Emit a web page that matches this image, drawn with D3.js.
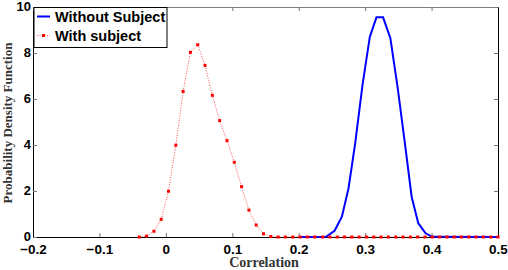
<!DOCTYPE html>
<html>
<head>
<meta charset="utf-8">
<script src="https://cdn.jsdelivr.net/npm/d3@7"></script>
<style>
  body { margin: 0; background: #fff; }
  .tick text { font-family: "Liberation Sans", Arial, sans-serif; font-weight: bold; fill: #000; }
  .axisText { font-family: "Liberation Serif", "Times New Roman", serif; font-weight: bold; fill: #333; }
  .legendText { font-family: "Liberation Sans", Arial, sans-serif; font-weight: bold; font-size: 14.5px; fill: #000; }
</style>
</head>
<body>
<div id="chart"></div>
<script>
//chart data
var xTicks = [-0.2, -0.1, 0, 0.1, 0.2, 0.3, 0.4, 0.5];
var xTickLabels = ["\u22120.2", "\u22120.1", "0", "0.1", "0.2", "0.3", "0.4", "0.5"];
var yTicks = [0, 2, 4, 6, 8, 10];
var seriesNames = ["Without Subject", "With subject"];

//blue curve (without subject)
var blueX = [0.200, 0.229, 0.241, 0.254, 0.265, 0.275, 0.285, 0.296, 0.307, 0.317, 0.327, 0.338,
  0.349, 0.360, 0.370, 0.380, 0.391, 0.401, 0.500];
var blueY = [0, 0, 0.01, 0.27, 0.88, 2.12, 4.07, 6.6, 8.7, 9.55, 9.55, 8.64,
  6.48, 4.04, 1.75, 0.6, 0.16, 0.01, 0];

//red curve (with subject)
var redX = [-0.040, -0.029, -0.018, -0.007, 0.004, 0.015, 0.026, 0.037, 0.048, 0.059,
  0.070, 0.081, 0.092, 0.103, 0.114, 0.125, 0.136, 0.147, 0.158, 0.169,
  0.180, 0.191, 0.202, 0.213, 0.224, 0.236, 0.247, 0.258, 0.269, 0.280,
  0.291, 0.302, 0.313, 0.324, 0.335, 0.346, 0.357, 0.368, 0.379, 0.390,
  0.401, 0.412, 0.423, 0.434, 0.445, 0.456, 0.467, 0.478, 0.489, 0.500];
var redY = [0, 0.04, 0.25, 0.77, 1.99, 3.99, 6.33, 8.03, 8.36, 7.46,
  6.16, 5.06, 4.19, 3.25, 2.19, 1.17, 0.52, 0.14, 0.02, 0,
  0, 0, 0, 0, 0, 0, 0, 0, 0, 0,
  0, 0, 0, 0, 0, 0, 0, 0, 0, 0,
  0, 0, 0, 0, 0, 0, 0, 0, 0, 0];

//svg area
var svgWidth = 508;
var svgHeight = 270;

var margin = { top: 7, right: 10, bottom: 33, left: 33 };

var width = svgWidth - margin.left - margin.right;
var height = svgHeight - margin.top - margin.bottom;

var svg = d3.select("#chart")
  .append("svg")
  .attr("width", svgWidth)
  .attr("height", svgHeight);

var chartGroup = svg.append("g")
  .attr("transform", `translate(${margin.left}, ${margin.top})`);

//scales
var xLinearScale = d3.scaleLinear()
  .domain([-0.2, 0.5])
  .range([0, width]);

var yLinearScale = d3.scaleLinear()
  .domain([0, 10])
  .range([height, 0]);

//axes, ticks point inward like matlab
var bottomAxis = d3.axisBottom(xLinearScale)
  .tickValues(xTicks)
  .tickFormat((d, i) => xTickLabels[i])
  .tickSizeInner(-4)
  .tickSizeOuter(0)
  .tickPadding(7);

var leftAxis = d3.axisLeft(yLinearScale)
  .tickValues(yTicks)
  .tickSizeInner(-4)
  .tickSizeOuter(0)
  .tickPadding(2);

var topAxis = d3.axisTop(xLinearScale)
  .tickValues(xTicks)
  .tickFormat("")
  .tickSizeInner(-4)
  .tickSizeOuter(0);

var rightAxis = d3.axisRight(yLinearScale)
  .tickValues(yTicks)
  .tickFormat("")
  .tickSizeInner(-4)
  .tickSizeOuter(0);

var xAxisG = chartGroup.append("g")
  .attr("transform", `translate(0, ${height})`)
  .call(bottomAxis);
xAxisG.selectAll("text").style("font-size", "13.5px");

var yAxisG = chartGroup.append("g")
  .call(leftAxis);
yAxisG.selectAll("text")
  .style("font-size", "13px")
  .attr("dy", "0.26em");

var topG = chartGroup.append("g").call(topAxis);
topG.select(".domain").attr("stroke", "#808080");

chartGroup.append("g")
  .attr("transform", `translate(${width}, 0)`)
  .call(rightAxis);

chartGroup.selectAll(".tick line").attr("stroke", "#777");

//blue line
var blueData = blueX.map((x, i) => ({ x: x, y: blueY[i] }));
var redData = redX.map((x, i) => ({ x: x, y: redY[i] }));

var line = d3.line()
  .x(d => xLinearScale(d.x))
  .y(d => yLinearScale(d.y));

chartGroup.append("path")
  .datum(blueData)
  .attr("d", line)
  .attr("fill", "none")
  .attr("stroke", "#0000ff")
  .attr("stroke-width", 2);

//red dotted line with markers
chartGroup.append("path")
  .datum(redData)
  .attr("d", line)
  .attr("fill", "none")
  .attr("stroke", "#ff0000")
  .attr("stroke-width", 1)
  .attr("stroke-dasharray", "1,1.5")
  .attr("opacity", 0.7);

chartGroup.selectAll(".redDot")
  .data(redData)
  .enter()
  .append("rect")
  .attr("class", "redDot")
  .attr("x", d => xLinearScale(d.x) - 1.5)
  .attr("y", d => yLinearScale(d.y) - 1.5)
  .attr("width", 3)
  .attr("height", 3)
  .attr("fill", "#ff0000");

//legend
var legend = chartGroup.append("g")
  .attr("transform", "translate(1, 0.5)");

legend.append("rect")
  .attr("x", 0)
  .attr("y", 0)
  .attr("width", 133)
  .attr("height", 40)
  .attr("fill", "#fff")
  .attr("stroke", "#000")
  .attr("stroke-width", 1);

legend.append("line")
  .attr("x1", 3).attr("x2", 16)
  .attr("y1", 9).attr("y2", 9)
  .attr("stroke", "#0000ff")
  .attr("stroke-width", 2);

legend.append("line")
  .attr("x1", 3).attr("x2", 16)
  .attr("y1", 28).attr("y2", 28)
  .attr("stroke", "#ff0000")
  .attr("stroke-dasharray", "1,1.5")
  .attr("opacity", 0.7);

legend.append("rect")
  .attr("x", 8).attr("y", 26.5)
  .attr("width", 3).attr("height", 3)
  .attr("fill", "#ff0000");

legend.append("text")
  .attr("class", "legendText")
  .attr("x", 21)
  .attr("y", 14.5)
  .text(seriesNames[0]);

legend.append("text")
  .attr("class", "legendText")
  .attr("x", 21)
  .attr("y", 33.5)
  .text(seriesNames[1]);

//axis labels
chartGroup.append("text")
  .attr("class", "axisText")
  .attr("transform", "rotate(-90)")
  .attr("x", 0 - 116)
  .attr("y", 0 - margin.left + 12)
  .attr("text-anchor", "middle")
  .style("font-size", "13px")
  .text("Probability Density Function");

chartGroup.append("text")
  .attr("class", "axisText")
  .attr("x", 231)
  .attr("y", height + 30)
  .attr("text-anchor", "middle")
  .style("font-size", "14px")
  .text("Correlation");
</script>
</body>
</html>
